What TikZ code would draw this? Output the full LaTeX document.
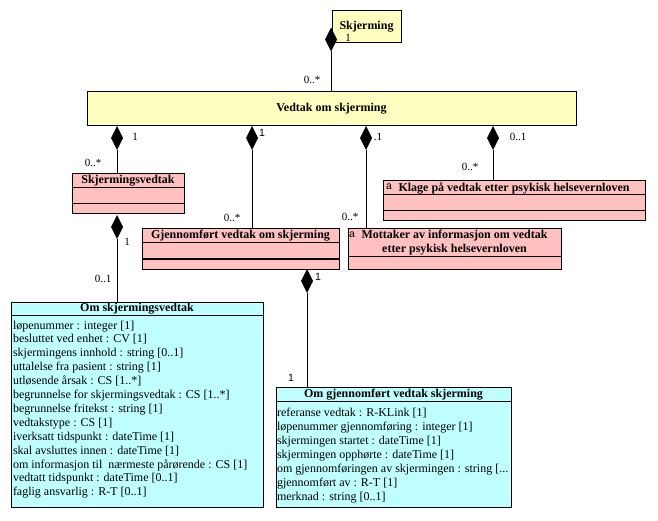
\documentclass[tikz,border=0pt]{standalone}
\usepackage{fontspec}
\setmainfont{Liberation Serif}
\newfontfamily\arialfont{Liberation Sans}
\usepackage{tikz}
\usetikzlibrary{shapes.geometric}
\definecolor{yyellow}{HTML}{FFFFC0}
\definecolor{ppink}{HTML}{FFC0C0}
\definecolor{ccyan}{HTML}{C0FFFF}

\begin{document}
\begin{tikzpicture}[x=1pt,y=-1pt,line width=1pt,
	every node/.style={inner sep=0pt,outer sep=0pt,font=\fontsize{12}{14}\selectfont},
	box/.style={draw,anchor=north west},
	ttl/.style={font=\fontsize{12}{14}\selectfont\bfseries},
	attr/.style={anchor=base west},
	mult/.style={font=\fontsize{11}{13}\selectfont},
	multa/.style={font=\fontsize{10.5}{13}\selectfont\arialfont},
	comp/.style={diamond,fill=black,minimum width=12pt,minimum height=24pt}]
	\useasboundingbox (0,0) rectangle (658,521);
	% classes
	\node[box,fill=yyellow,minimum width=69pt,minimum height=32pt] (skj) at (332,11) {};
	\node[ttl] (skjt) at (skj) {Skjerming};
	\node[box,fill=yyellow,minimum width=489pt,minimum height=34pt] (vedtak) at (87,92) {};
	\node[ttl] (vedtakt) at (vedtak) {Vedtak om skjerming};
	\node[box,fill=ppink,minimum width=112pt,minimum height=40pt] (sv) at (72,174) {};
	\node[ttl] (svt) at (128,181) {Skjermingsvedtak};
	\node[box,fill=ppink,minimum width=197pt,minimum height=40pt] (gv) at (142,229) {};
	\node[ttl] (gvt) at (240.5,236) {Gjennomført vedtak om skjerming};
	\node[box,fill=ppink,minimum width=213pt,minimum height=40pt] (mott) at (348,229) {};
	\node[ttl,align=center] (mottt) at (454.5,243) {Mottaker av informasjon om vedtak\\etter psykisk helsevernloven};
	\node[multa] (motta) at (352,235) {a};
	\node[box,fill=ppink,minimum width=262pt,minimum height=40pt] (klage) at (383,181) {};
	\node[ttl] (klaget) at (514,188) {Klage på vedtak etter psykisk helsevernloven};
	\node[multa] (klagea) at (389,187) {a};
	\node[box,fill=ccyan,minimum width=252pt,minimum height=205pt] (osv) at (11,302) {};
	\node[ttl] (osvt) at (137,308.5) {Om skjermingsvedtak};
	\node[box,fill=ccyan,minimum width=235pt,minimum height=120pt] (ogv) at (276,387) {};
	\node[ttl] (ogvt) at (393.5,394.5) {Om gjennomført vedtak skjerming};
	% compartments
	\draw ([yshift=-14pt]sv.north west) -- ([yshift=-14pt]sv.north east);
	\draw ([yshift=-30pt]sv.north west) -- ([yshift=-30pt]sv.north east);
	\draw ([yshift=-14pt]gv.north west) -- ([yshift=-14pt]gv.north east);
	\draw ([yshift=-30pt]gv.north west) -- ([yshift=-30pt]gv.north east);
	\draw ([yshift=-28pt]mott.north west) -- ([yshift=-28pt]mott.north east);
	\draw ([yshift=-14pt]klage.north west) -- ([yshift=-14pt]klage.north east);
	\draw ([yshift=-30pt]klage.north west) -- ([yshift=-30pt]klage.north east);
	\draw ([yshift=-13pt]osv.north west) -- ([yshift=-13pt]osv.north east);
	\draw ([yshift=-14pt]ogv.north west) -- ([yshift=-14pt]ogv.north east);
	% attributes
	\foreach \t [count=\i] in {{løpenummer : integer [1]},{besluttet ved enhet : CV [1]},
		{skjermingens innhold : string [0..1]},{uttalelse fra pasient : string [1]},
		{utløsende årsak : CS [1..*]},{begrunnelse for skjermingsvedtak : CS [1..*]},
		{begrunnelse fritekst : string [1]},{vedtakstype : CS [1]},
		{iverksatt tidspunkt : dateTime [1]},{skal avsluttes innen : dateTime [1]},
		{om informasjon til\ \ nærmeste pårørende : CS [1]},{vedtatt tidspunkt : dateTime [0..1]},
		{faglig ansvarlig : R-T [0..1]}}
		\node[attr] (osv\i) at (13,{329+13.9*(\i-1)}) {\t};
	\foreach \t [count=\i] in {{referanse vedtak : R-KLink [1]},{løpenummer gjennomføring : integer [1]},
		{skjermingen startet : dateTime [1]},{skjermingen opphørte : dateTime [1]},
		{om gjennomføringen av skjermingen : string [.{}.{}.},{gjennomført av : R-T [1]},
		{merknad : string [0..1]}}
		\node[attr] (ogv\i) at (277,{416+14.05*(\i-1)}) {\t};
	% compositions
	\node[comp] (d0) at (331,39.5) {};
	\node[comp] (d1) at (117,138) {};
	\node[comp] (d2) at (252,138) {};
	\node[comp] (d3) at (366,138) {};
	\node[comp] (d4) at (493,138) {};
	\node[comp] (d5) at (117,227) {};
	\node[comp] (d6) at (307,281) {};
	\draw (d0) -- (d0 |- vedtak.north);
	\draw (d1) -- (d1 |- sv.north);
	\draw (d2) -- (d2 |- gv.north);
	\draw (d3) -- (d3 |- mott.north);
	\draw (d4) -- (d4 |- klage.north);
	\draw (d5) -- (d5 |- osv.north);
	\draw (d6) -- (d6 |- ogv.north);
	% multiplicities
	\node[mult] (m0a) at (348,38) {1};
	\node[mult] (m0b) at (312,80) {0..*};
	\node[mult] (m1a) at (135,137) {1};
	\node[mult] (m1b) at (93,163) {0..*};
	\node[multa] (m2a) at (262,133) {1};
	\node[mult] (m2b) at (232,218) {0..*};
	\node[mult] (m3a) at (378,137) {.1};
	\node[mult] (m3b) at (350,217) {0..*};
	\node[mult] (m4a) at (518,137) {0..1};
	\node[mult] (m4b) at (470,167) {0..*};
	\node[mult] (m5a) at (127,242) {1};
	\node[mult] (m5b) at (103,279) {0..1};
	\node[multa] (m6a) at (318,277) {1};
	\node[multa] (m6b) at (291,378) {1};
\end{tikzpicture}
\end{document}
